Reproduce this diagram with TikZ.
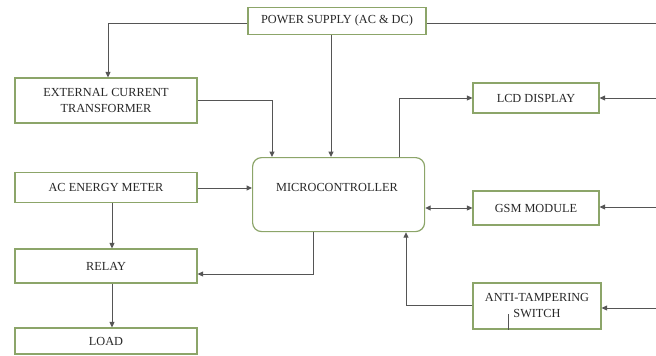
\documentclass[tikz,border=0pt]{standalone}
\usepackage{fontspec}
\setmainfont{Liberation Serif}
\usetikzlibrary{arrows.meta}
\definecolor{boxline}{RGB}{140,165,105}
\definecolor{wire}{RGB}{85,85,85}
\definecolor{txt}{RGB}{40,40,40}
\begin{document}
\begin{tikzpicture}[x=1pt,y=-1pt,
  lbl/.style={text=txt,font=\fontsize{12.3}{16}\selectfont,align=center},
  blk/.style={lbl,draw=boxline,line width=1.2pt,fill=white,inner sep=0pt},
  conn/.style={draw=wire,line width=1pt,-{Triangle[length=5.5pt,width=5pt]}},
  plain/.style={draw=wire,line width=1pt}]
\useasboundingbox (0,0) rectangle (656,356);
% boxes
\node[blk,minimum width=178pt,minimum height=27pt] (ps) at (337,21) {POWER SUPPLY (AC \& DC)};
\node[blk,minimum width=182pt,minimum height=45pt] (ect) at (106,100.5) {EXTERNAL CURRENT\\TRANSFORMER};
\node[blk,minimum width=182pt,minimum height=30pt] (acm) at (106,187.5) {AC ENERGY METER};
\node[blk,minimum width=182pt,minimum height=34pt] (rel) at (106,266) {RELAY};
\node[blk,minimum width=182pt,minimum height=26pt] (load) at (106,341) {LOAD};
\node[blk,minimum width=172pt,minimum height=74pt,rounded corners=9pt,anchor=north west] (mc) at (252,157) {};
\node[lbl] (mclabel) at (337,187) {MICROCONTROLLER};
\node[blk,minimum width=126pt,minimum height=30pt] (lcd) at (536,98) {LCD DISPLAY};
\node[blk,minimum width=126pt,minimum height=34pt] (gsm) at (536,208) {GSM MODULE};
\node[blk,minimum width=128pt,minimum height=46pt] (ats) at (537,306) {ANTI-TAMPERING\\SWITCH};
% free ends at the right edge
\coordinate (rtop) at (656,23);
\coordinate (rlcd) at (656,98);
\coordinate (rgsm) at (656,207);
\coordinate (rats) at (656,308);
% connectors
\draw[conn] (ps.west |- 0,23) -| (108,0 |- ect.north);
\draw[plain] (ps.east |- 0,23) -- (rtop);
\draw[conn] (331,0 |- ps.south) -- (331,0 |- mc.north);
\draw[conn] (ect.east |- 0,100) -| (272,0 |- mc.north);
\draw[conn] (acm.east |- 0,188) -- (mc.west |- 0,188);
\draw[conn] (112,0 |- acm.south) -- (112,0 |- rel.north);
\draw[conn] (112,0 |- rel.south) -- (112,0 |- load.north);
\draw[conn] (313,0 |- mc.south) |- (rel.east |- 0,274);
\draw[conn] (399,0 |- mc.north) |- (lcd.west);
\draw[conn] (rlcd) -- (lcd.east);
\draw[conn,{Triangle[length=5.5pt,width=5pt]}-{Triangle[length=5.5pt,width=5pt]}] (mc.east |- 0,208) -- (gsm.west |- 0,208);
\draw[conn] (rgsm) -- (gsm.east |- rgsm);
\draw[conn] (ats.west |- 0,305) -| (406,0 |- mc.south);
\draw[conn] (rats) -- (ats.east |- rats);
\draw[draw=wire,line width=0.6pt] (508,314) -- (508,330);
\end{tikzpicture}
\end{document}
